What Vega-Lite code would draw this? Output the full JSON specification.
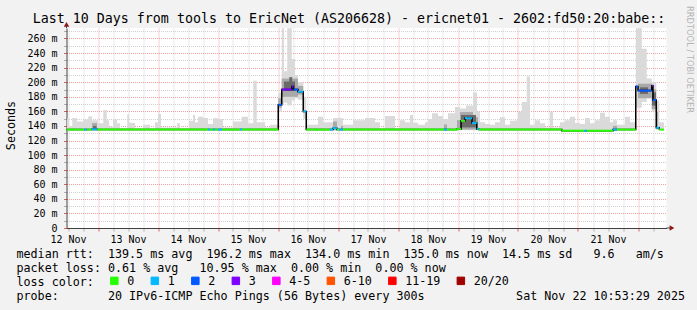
{
  "$schema": "https://vega.github.io/schema/vega-lite/v6.json",
  "width": 600,
  "height": 200,
  "autosize": {"type": "none"},
  "padding": {"left": 66.5, "top": 28, "right": 30.5, "bottom": 82},
  "background": "#f2f2f2",
  "config": {
    "view": {"fill": "white", "stroke": null},
    "axis": {"labelFont": "DejaVu Sans Mono", "titleFont": "DejaVu Sans Mono", "titleFontWeight": "normal", "labelColor": "black", "titleColor": "black"}
  },
  "datasets": {
    "smoke": [
      {"t": -0.4, "lo": 134, "hi": 150}, {"t": 0.4, "lo": 134, "hi": 140}, {"t": 1.7, "lo": 134, "hi": 151}, {"t": 3.5, "lo": 134, "hi": 146},
      {"t": 6.1, "lo": 134, "hi": 149}, {"t": 8.1, "lo": 134, "hi": 153}, {"t": 9.6, "lo": 134, "hi": 148}, {"t": 12, "lo": 134, "hi": 143.6},
      {"t": 14.1, "lo": 134, "hi": 162}, {"t": 15.5, "lo": 134, "hi": 148}, {"t": 16.4, "lo": 134, "hi": 139}, {"t": 18, "lo": 134, "hi": 149},
      {"t": 19.6, "lo": 134, "hi": 143.6}, {"t": 20.8, "lo": 134, "hi": 137}, {"t": 23.7, "lo": 134, "hi": 156}, {"t": 24.4, "lo": 134, "hi": 144.5},
      {"t": 26.8, "lo": 134, "hi": 137}, {"t": 30, "lo": 134, "hi": 141.7}, {"t": 32.8, "lo": 134, "hi": 137}, {"t": 34.8, "lo": 134, "hi": 145},
      {"t": 36, "lo": 134, "hi": 156.4}, {"t": 37.2, "lo": 134, "hi": 138}, {"t": 43.6, "lo": 134, "hi": 143.6}, {"t": 44.8, "lo": 134, "hi": 137},
      {"t": 48.4, "lo": 134, "hi": 147}, {"t": 50, "lo": 134, "hi": 155}, {"t": 50.8, "lo": 134, "hi": 145}, {"t": 52, "lo": 134, "hi": 152.7},
      {"t": 54, "lo": 134, "hi": 151}, {"t": 56, "lo": 134, "hi": 142.7}, {"t": 58, "lo": 134, "hi": 150.5}, {"t": 60, "lo": 134, "hi": 149.6},
      {"t": 62, "lo": 134, "hi": 138}, {"t": 66, "lo": 134, "hi": 146}, {"t": 69.5, "lo": 134, "hi": 152.7}, {"t": 72, "lo": 134, "hi": 143.6},
      {"t": 74.1, "lo": 134, "hi": 202}, {"t": 75.5, "lo": 134, "hi": 145}, {"t": 78.8, "lo": 134, "hi": 138}, {"t": 80.8, "lo": 134, "hi": 141.7},
      {"t": 84.1, "lo": 160, "hi": 185}, {"t": 85.5, "lo": 170, "hi": 274}, {"t": 86.4, "lo": 172, "hi": 215}, {"t": 87.7, "lo": 168, "hi": 274},
      {"t": 89.5, "lo": 175, "hi": 232}, {"t": 90.8, "lo": 178, "hi": 210}, {"t": 92, "lo": 176, "hi": 200}, {"t": 94.1, "lo": 150, "hi": 180},
      {"t": 95.3, "lo": 134, "hi": 141.7}, {"t": 100, "lo": 134, "hi": 152.7}, {"t": 102, "lo": 134, "hi": 145}, {"t": 106, "lo": 134, "hi": 151},
      {"t": 110, "lo": 134, "hi": 141.7}, {"t": 114, "lo": 134, "hi": 148}, {"t": 118.8, "lo": 134, "hi": 151}, {"t": 122.8, "lo": 134, "hi": 145},
      {"t": 124.8, "lo": 134, "hi": 137}, {"t": 126.8, "lo": 134, "hi": 153.7}, {"t": 130.8, "lo": 134, "hi": 137}, {"t": 132.8, "lo": 134, "hi": 148},
      {"t": 134.8, "lo": 134, "hi": 145}, {"t": 136.8, "lo": 134, "hi": 155}, {"t": 138, "lo": 134, "hi": 144.5}, {"t": 140, "lo": 134, "hi": 141.7},
      {"t": 142.8, "lo": 134, "hi": 145}, {"t": 144, "lo": 134, "hi": 149.6}, {"t": 145.6, "lo": 134, "hi": 157.4}, {"t": 148, "lo": 134, "hi": 153.7},
      {"t": 150, "lo": 134, "hi": 149.6}, {"t": 152, "lo": 134, "hi": 157.4}, {"t": 154.8, "lo": 134, "hi": 166}, {"t": 156.8, "lo": 134, "hi": 164},
      {"t": 159.2, "lo": 134, "hi": 168}, {"t": 162, "lo": 134, "hi": 186}, {"t": 163.6, "lo": 134, "hi": 160}, {"t": 164.8, "lo": 134, "hi": 145},
      {"t": 166.8, "lo": 134, "hi": 142.7}, {"t": 168.8, "lo": 134, "hi": 141.7}, {"t": 170.8, "lo": 134, "hi": 145}, {"t": 172.8, "lo": 134, "hi": 152},
      {"t": 174.8, "lo": 134, "hi": 141.7}, {"t": 176.8, "lo": 134, "hi": 147}, {"t": 178.8, "lo": 134, "hi": 148}, {"t": 180, "lo": 134, "hi": 159.6},
      {"t": 181.5, "lo": 134, "hi": 173}, {"t": 183.5, "lo": 134, "hi": 208}, {"t": 184.8, "lo": 134, "hi": 141.7}, {"t": 186.8, "lo": 134, "hi": 148},
      {"t": 188.8, "lo": 134, "hi": 143.6}, {"t": 190.8, "lo": 134, "hi": 138}, {"t": 192.8, "lo": 134, "hi": 159.6}, {"t": 194, "lo": 134, "hi": 138},
      {"t": 196.8, "lo": 134, "hi": 145}, {"t": 198.8, "lo": 134, "hi": 148}, {"t": 200.8, "lo": 134, "hi": 152.7}, {"t": 202.8, "lo": 134, "hi": 144},
      {"t": 204.8, "lo": 134, "hi": 142.7}, {"t": 206.8, "lo": 134, "hi": 151}, {"t": 208.8, "lo": 134, "hi": 143.6}, {"t": 210.8, "lo": 134, "hi": 148},
      {"t": 212.8, "lo": 134, "hi": 158}, {"t": 214.8, "lo": 134, "hi": 152.7}, {"t": 216.8, "lo": 134, "hi": 145}, {"t": 218, "lo": 134, "hi": 148},
      {"t": 219.6, "lo": 134, "hi": 141.7}, {"t": 222.8, "lo": 134, "hi": 152.7}, {"t": 224.8, "lo": 134, "hi": 145}, {"t": 227.1, "lo": 165, "hi": 274},
      {"t": 229.5, "lo": 173, "hi": 246}, {"t": 231.5, "lo": 178, "hi": 205}, {"t": 233.5, "lo": 160, "hi": 200}, {"t": 235.3, "lo": 134, "hi": 175},
      {"t": 236.5, "lo": 134, "hi": 145}, {"t": 238.4, "lo": 134, "hi": 145}
    ],
    "cloud": [
      {"t": 9.6, "t2": 11.6, "lo": 134, "hi": 144, "s": "m"}, {"t": 10, "t2": 11.4, "lo": 134, "hi": 140, "s": "d"},
      {"t": 84.1, "t2": 85.5, "lo": 165, "hi": 178, "s": "m"}, {"t": 85.5, "t2": 92, "lo": 180, "hi": 205, "s": "m"}, {"t": 92, "t2": 94.1, "lo": 183, "hi": 195, "s": "m"},
      {"t": 86.4, "t2": 90.8, "lo": 188, "hi": 201, "s": "d"}, {"t": 88.5, "t2": 89.7, "lo": 192, "hi": 207, "s": "d"},
      {"t": 106, "t2": 107.6, "lo": 134, "hi": 146, "s": "m"}, {"t": 109.2, "t2": 110, "lo": 134, "hi": 140, "s": "m"},
      {"t": 150.4, "t2": 151.6, "lo": 134, "hi": 142, "s": "m"},
      {"t": 155.6, "t2": 156.8, "lo": 135, "hi": 148, "s": "m"}, {"t": 156.8, "t2": 162, "lo": 135, "hi": 159, "s": "m"}, {"t": 162, "t2": 164, "lo": 135, "hi": 152, "s": "m"},
      {"t": 157.2, "t2": 163.2, "lo": 138, "hi": 155, "s": "d"},
      {"t": 218, "t2": 219.6, "lo": 133, "hi": 140, "s": "m"},
      {"t": 228, "t2": 233.5, "lo": 178, "hi": 198, "s": "m"}, {"t": 233.5, "t2": 235.3, "lo": 163, "hi": 190, "s": "m"}, {"t": 235.3, "t2": 236, "lo": 137, "hi": 160, "s": "m"},
      {"t": 228.8, "t2": 232, "lo": 184, "hi": 193, "s": "d"}, {"t": 233.6, "t2": 235.2, "lo": 168, "hi": 186, "s": "d"}
    ],
    "median": [
      {"t": -0.6, "t2": 6.4, "m": 135, "loss": "0"}, {"t": 6.4, "t2": 7.5, "m": 135, "loss": "1"}, {"t": 7.5, "t2": 9.5, "m": 135, "loss": "0"},
      {"t": 9.5, "t2": 11.7, "m": 135.5, "loss": "1"}, {"t": 11.7, "t2": 56, "m": 135, "loss": "0"}, {"t": 56, "t2": 56.8, "m": 135, "loss": "1"},
      {"t": 56.8, "t2": 58, "m": 135, "loss": "0"}, {"t": 58, "t2": 58.8, "m": 135, "loss": "1"}, {"t": 58.8, "t2": 60, "m": 135, "loss": "0"},
      {"t": 60, "t2": 61.6, "m": 135, "loss": "1"}, {"t": 61.6, "t2": 68.8, "m": 135, "loss": "0"}, {"t": 68.8, "t2": 69.6, "m": 135, "loss": "1"},
      {"t": 69.6, "t2": 84.1, "m": 135, "loss": "0"}, {"t": 84.1, "t2": 85.5, "m": 169, "loss": "2"}, {"t": 85.5, "t2": 89.5, "m": 190, "loss": "3"},
      {"t": 89.5, "t2": 90.2, "m": 194, "loss": "3"}, {"t": 90.2, "t2": 92, "m": 190, "loss": "2"}, {"t": 92, "t2": 94.1, "m": 187, "loss": "1"},
      {"t": 94.1, "t2": 95.3, "m": 160, "loss": "1"}, {"t": 95.3, "t2": 104.8, "m": 135, "loss": "0"}, {"t": 104.8, "t2": 106, "m": 135, "loss": "1"},
      {"t": 106, "t2": 107.6, "m": 137, "loss": "1"}, {"t": 107.6, "t2": 108.4, "m": 135, "loss": "0"}, {"t": 108.4, "t2": 110, "m": 135, "loss": "1"},
      {"t": 110, "t2": 150.4, "m": 135, "loss": "0"}, {"t": 150.4, "t2": 151.6, "m": 135, "loss": "1"}, {"t": 151.6, "t2": 155.6, "m": 135, "loss": "0"},
      {"t": 155.6, "t2": 157.2, "m": 136, "loss": "0"}, {"t": 157.2, "t2": 158.8, "m": 147, "loss": "0"}, {"t": 158.8, "t2": 159.6, "m": 151, "loss": "1"},
      {"t": 159.6, "t2": 161.6, "m": 150.5, "loss": "1"}, {"t": 161.6, "t2": 163.5, "m": 144, "loss": "1"}, {"t": 163.5, "t2": 164.4, "m": 136, "loss": "1"},
      {"t": 164.4, "t2": 197.5, "m": 135, "loss": "0"}, {"t": 197.5, "t2": 206.4, "m": 133.5, "loss": "0"}, {"t": 206.4, "t2": 207.5, "m": 133.5, "loss": "1"},
      {"t": 207.5, "t2": 218, "m": 133.5, "loss": "0"}, {"t": 218, "t2": 219.6, "m": 135, "loss": "1"}, {"t": 219.6, "t2": 227.1, "m": 135, "loss": "0"},
      {"t": 227.1, "t2": 228, "m": 194, "loss": "2"}, {"t": 228, "t2": 233.5, "m": 188.5, "loss": "2"}, {"t": 233.5, "t2": 234, "m": 195, "loss": "3"},
      {"t": 234, "t2": 235.3, "m": 175.6, "loss": "2"}, {"t": 235.3, "t2": 236.5, "m": 137.6, "loss": "1"}, {"t": 236.5, "t2": 238.4, "m": 135, "loss": "0"}
    ]
  },
  "resolve": {"axis": {"x": "independent", "y": "independent"}},
  "layer": [
    {
      "data": {"name": "smoke"},
      "mark": {"type": "area", "interpolate": "step-after", "color": "#dadada"},
      "encoding": {
        "x": {"field": "t", "type": "quantitative", "scale": {"domain": [-0.6, 239.4], "nice": false, "zero": false},
          "axis": {
            "orient": "bottom",
            "values": [0,6,12,18,24,30,36,42,48,54,60,66,72,78,84,90,96,102,108,114,120,126,132,138,144,150,156,162,168,174,180,186,192,198,204,210,216,222,228,234],
            "labelExpr": "datum.value % 24 === 0 ? (12 + datum.value / 24) + ' Nov' : ''",
            "labelFontSize": 10, "labelPadding": 3, "labelFlush": false, "labelOverlap": false,
            "grid": true,
            "gridColor": {"condition": {"test": "datum.value % 24 === 12", "value": "#f2a0a0"}, "value": "#d0d0d0"},
            "gridDash": [1, 1],
            "ticks": true, "tickSize": 3,
            "tickColor": {"condition": {"test": "datum.value % 24 === 12", "value": "#e06060"}, "value": "#b0b0b0"},
            "domainColor": "#404040",
            "title": [
              "median rtt:\u00a0\u00a0139.5 ms avg\u00a0\u00a0196.2 ms max\u00a0\u00a0134.0 ms min\u00a0\u00a0135.0 ms now\u00a0\u00a014.5 ms sd\u00a0\u00a0\u00a09.6\u00a0\u00a0\u00a0am/s",
              "packet loss: 0.61 % avg\u00a0\u00a0\u00a010.95 % max\u00a0\u00a00.00 % min\u00a0\u00a00.00 % now",
              "loss color:",
              "probe:\u00a0\u00a0\u00a0\u00a0\u00a0\u00a0\u00a020 IPv6-ICMP Echo Pings (56 Bytes) every 300s\u00a0\u00a0\u00a0\u00a0\u00a0\u00a0\u00a0\u00a0\u00a0\u00a0\u00a0\u00a0\u00a0Sat Nov 22 10:53:29 2025"
            ],
            "titleFontSize": 11.7, "titleX": -50.5, "titleY": 20, "titleAlign": "left", "titleAnchor": "start", "titleBaseline": "top", "titleLineHeight": 14
          }
        },
        "y": {"field": "lo", "type": "quantitative", "scale": {"domain": [0, 274.4], "nice": false, "zero": false},
          "axis": {
            "orient": "left",
            "values": [0,10,20,30,40,50,60,70,80,90,100,110,120,130,140,150,160,170,180,190,200,210,220,230,240,250,260,270],
            "labelExpr": "datum.value === 0 ? '0\u00a0\u00a0' : (datum.value % 20 === 0 ? datum.value + ' m' : '')",
            "labelFontSize": 10, "labelPadding": 6.5, "labelFlush": false, "labelOverlap": false,
            "grid": true,
            "gridColor": {"condition": {"test": "datum.value % 20 === 0", "value": "#f2a0a0"}, "value": "#d0d0d0"},
            "gridDash": [1, 1],
            "ticks": true, "tickSize": 3,
            "tickColor": {"condition": {"test": "datum.value % 20 === 0", "value": "#e06060"}, "value": "#b0b0b0"},
            "domainColor": "#404040",
            "title": "Seconds", "titleFontSize": 11.7, "titleX": -56.5, "titleY": 97, "titleAlign": "center", "titleBaseline": "middle", "titleAngle": -90
          }
        },
        "y2": {"field": "hi"}
      }
    },
    {
      "data": {"name": "cloud"},
      "transform": [{"filter": "datum.s === 'm'"}],
      "mark": {"type": "rect", "color": "#a9a9a9"},
      "encoding": {
        "x": {"field": "t", "type": "quantitative", "scale": {"domain": [-0.6, 239.4], "nice": false, "zero": false},
          "axis": {"orient": "top", "labels": false, "ticks": false, "domain": false, "grid": false,
            "title": "Last 10 Days from tools to EricNet (AS206628) - ericnet01 - 2602:fd50:20:babe::",
            "titleFontSize": 13.3, "titleX": 282, "titleY": -5.5, "titleAlign": "center", "titleBaseline": "alphabetic"}},
        "x2": {"field": "t2"},
        "y": {"field": "lo", "type": "quantitative", "scale": {"domain": [0, 274.4], "nice": false, "zero": false},
          "axis": {"orient": "right", "labels": false, "ticks": false, "domain": false, "grid": false,
            "title": "RRDTOOL / TOBI OETIKER", "titleFont": "DejaVu Sans", "titleFontSize": 8.3, "titleColor": "#b4b4b4",
            "titleAngle": 90, "titleX": 21.5, "titleY": 31, "titleAlign": "center", "titleBaseline": "middle"}},
        "y2": {"field": "hi"}
      }
    },
    {
      "data": {"name": "cloud"},
      "transform": [{"filter": "datum.s === 'd'"}],
      "mark": {"type": "rect", "color": "#6a6a6a"},
      "encoding": {
        "x": {"field": "t", "type": "quantitative", "scale": {"domain": [-0.6, 239.4], "nice": false, "zero": false}, "axis": null},
        "x2": {"field": "t2"},
        "y": {"field": "lo", "type": "quantitative", "scale": {"domain": [0, 274.4], "nice": false, "zero": false}, "axis": null},
        "y2": {"field": "hi"}
      }
    },
    {
      "data": {"name": "median"},
      "mark": {"type": "line", "interpolate": "step-after", "color": "black", "strokeWidth": 1.5},
      "encoding": {
        "x": {"field": "t", "type": "quantitative", "scale": {"domain": [-0.6, 239.4], "nice": false, "zero": false}, "axis": null},
        "y": {"field": "m", "type": "quantitative", "scale": {"domain": [0, 274.4], "nice": false, "zero": false}, "axis": null}
      }
    },
    {
      "data": {"name": "median"},
      "mark": {"type": "rule", "strokeWidth": 2},
      "encoding": {
        "x": {"field": "t", "type": "quantitative", "scale": {"domain": [-0.6, 239.4], "nice": false, "zero": false}, "axis": null},
        "x2": {"field": "t2"},
        "y": {"field": "m", "type": "quantitative", "scale": {"domain": [0, 274.4], "nice": false, "zero": false}, "axis": null},
        "color": {"field": "loss", "type": "nominal",
          "scale": {"domain": ["0", "1", "2", "3", "4-5", "6-10", "11-19", "20/20"],
                    "range": ["#26ff00", "#00b8ff", "#0059ff", "#7e00ff", "#ff00ff", "#ff5500", "#ff0000", "#a10000"]},
          "legend": {"orient": "none", "legendX": 42, "legendY": 247, "direction": "horizontal", "columns": 8, "gridAlign": "none", "title": null,
            "symbolType": "square", "symbolSize": 56, "symbolStrokeWidth": 1, "symbolStrokeColor": "black",
            "labelFont": "DejaVu Sans Mono", "labelFontSize": 11.7, "labelColor": "black", "labelOffset": 7, "columnPadding": 14.5, "padding": 0, "labelLimit": 300,
            "encode": {"symbols": {"update": {"fill": {"scale": "color", "field": "value"}, "stroke": {"value": "black"}, "strokeWidth": {"value": 1}, "opacity": {"value": 1}}}}}
        }
      }
    },
    {
      "data": {"values": [{}]},
      "mark": {"type": "rule", "color": "#404040"},
      "encoding": {
        "x": {"datum": -0.6, "type": "quantitative", "scale": {"domain": [-0.6, 239.4], "nice": false, "zero": false}, "axis": null},
        "y": {"datum": 274.4, "type": "quantitative", "scale": {"domain": [0, 274.4], "nice": false, "zero": false}, "axis": null},
        "y2": {"datum": 278}
      }
    },
    {
      "data": {"values": [{}]},
      "mark": {"type": "rule", "color": "#404040"},
      "encoding": {
        "x": {"datum": 239.4, "type": "quantitative", "scale": {"domain": [-0.6, 239.4], "nice": false, "zero": false}, "axis": null},
        "x2": {"datum": 241},
        "y": {"datum": 0, "type": "quantitative", "scale": {"domain": [0, 274.4], "nice": false, "zero": false}, "axis": null}
      }
    },
    {
      "data": {"values": [{}]},
      "mark": {"type": "point", "shape": "triangle-up", "filled": true, "color": "#8b1a1a", "size": 30, "opacity": 1},
      "encoding": {
        "x": {"datum": -0.6, "type": "quantitative", "scale": {"domain": [-0.6, 239.4], "nice": false, "zero": false}, "axis": null},
        "y": {"datum": 279.5, "type": "quantitative", "scale": {"domain": [0, 274.4], "nice": false, "zero": false}, "axis": null}
      }
    },
    {
      "data": {"values": [{}]},
      "mark": {"type": "point", "shape": "triangle-right", "filled": true, "color": "#8b1a1a", "size": 30, "opacity": 1},
      "encoding": {
        "x": {"datum": 241.6, "type": "quantitative", "scale": {"domain": [-0.6, 239.4], "nice": false, "zero": false}, "axis": null},
        "y": {"datum": 0, "type": "quantitative", "scale": {"domain": [0, 274.4], "nice": false, "zero": false}, "axis": null}
      }
    }
  ]
}
